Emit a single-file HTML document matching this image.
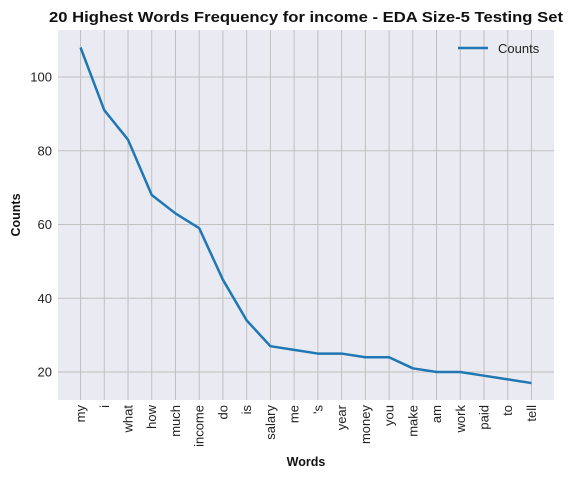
<!DOCTYPE html>
<html><head><meta charset="utf-8"><style>
body{margin:0;background:#fff;font-family:"Liberation Sans",Arial,sans-serif}
svg text{font-family:"Liberation Sans",Arial,sans-serif}
</style></head><body>
<svg id="chart" width="572" height="479">
<text x="306" y="22" font-size="15" font-weight="bold" text-anchor="middle" textLength="514" lengthAdjust="spacingAndGlyphs" fill="#111">20 Highest Words Frequency for income - EDA Size-5 Testing Set</text>
<rect x="58" y="30" width="496" height="370" fill="#eaeaf2"/>
<g id="grid"></g><g id="ticks"></g>
<polyline id="line" fill="none" stroke="#1f77b4" stroke-width="2.5" stroke-linejoin="round"/>
<text x="306" y="466" font-size="12.5" font-weight="bold" text-anchor="middle" fill="#111">Words</text>
<text transform="translate(20,215) rotate(-90)" font-size="12.5" font-weight="bold" text-anchor="middle" fill="#111">Counts</text>
<g>
<line x1="458" y1="48" x2="488" y2="48" stroke="#1f77b4" stroke-width="2.5"/>
<text x="498" y="53" font-size="13" fill="#222">Counts</text>
</g>
</svg>
<script>
const categories=["my","i","what","how","much","income","do","is","salary","me","'s","year","money","you","make","am","work","paid","to","tell"];
const counts=[108,91,83,68,63,59,45,34,27,26,25,25,24,24,21,20,20,19,18,17];
const yTicks=[20,40,60,80,100];
const NS="http://www.w3.org/2000/svg";
const xs=i=>58+(i+0.95)*(496/20.9);
const ys=v=>372-(v-20)*3.6875;
const grid=document.getElementById('grid'),ticks=document.getElementById('ticks');
function mk(t,a,p){const e=document.createElementNS(NS,t);for(const k in a)e.setAttribute(k,a[k]);p.appendChild(e);return e;}
categories.forEach((c,i)=>{
 const l=mk('line',{x1:xs(i),x2:xs(i),y1:30,y2:400,stroke:'#c0c0c0','stroke-width':1},grid);
 
 
 const t=mk('text',{transform:`translate(${xs(i)+4.5},405) rotate(-90)`,'font-size':13,'text-anchor':'end',fill:'#222'},ticks);
 t.textContent=c;
 
 
});
yTicks.forEach(v=>{
 const l=mk('line',{x1:58,x2:554,y1:ys(v),y2:ys(v),stroke:'#c0c0c0','stroke-width':1},grid);
 
 
 const t=mk('text',{x:52,y:ys(v)+4.5,'font-size':13,'text-anchor':'end',fill:'#222'},ticks);
 t.textContent=v;
 
 
});
document.getElementById('line').setAttribute('points',counts.map((v,i)=>xs(i)+','+ys(v)).join(' '));
</script>
</body></html>
